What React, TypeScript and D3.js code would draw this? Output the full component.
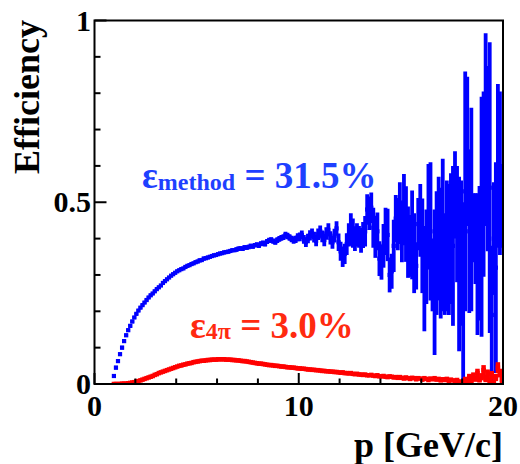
import React from "react";
import * as d3 from "d3";

// Histogram binning (GeV/c): first bin low edge and width
const BIN_LOW = 0.9;
const BIN_WIDTH = 0.1;

// Blue: efficiency with method (bin contents from 0.95 to 19.95)
const blueValues = [
  0.022, 0.045, 0.063, 0.082, 0.100, 0.118, 0.134, 0.148, 0.160, 0.172,
  0.183, 0.193, 0.202, 0.210, 0.217, 0.224, 0.231, 0.238, 0.244, 0.249,
  0.255, 0.261, 0.266, 0.271, 0.278, 0.283, 0.288, 0.293, 0.298, 0.302,
  0.306, 0.310, 0.313, 0.316, 0.318, 0.322, 0.325, 0.327, 0.330, 0.332,
  0.335, 0.337, 0.340, 0.341, 0.345, 0.346, 0.348, 0.350, 0.352, 0.354,
  0.355, 0.357, 0.359, 0.360, 0.362, 0.363, 0.364, 0.366, 0.368, 0.368,
  0.370, 0.372, 0.373, 0.372, 0.376, 0.375, 0.377, 0.380, 0.378, 0.382,
  0.383, 0.381, 0.386, 0.388, 0.385, 0.392, 0.395, 0.397, 0.393, 0.390,
  0.396, 0.399, 0.402, 0.404, 0.410, 0.407, 0.403, 0.399, 0.396, 0.398,
  0.404, 0.405, 0.410, 0.398, 0.390, 0.400, 0.409, 0.414, 0.404, 0.394,
  0.412, 0.420, 0.406, 0.396, 0.414, 0.424, 0.402, 0.390, 0.408, 0.428,
  0.390, 0.365, 0.350, 0.358, 0.385, 0.410, 0.425, 0.415, 0.400, 0.410,
  0.405, 0.395, 0.410, 0.420, 0.480, 0.470, 0.485, 0.430, 0.405, 0.420,
  0.345, 0.335, 0.380, 0.420, 0.410, 0.300, 0.310, 0.380, 0.455, 0.440,
  0.470, 0.420, 0.480, 0.440, 0.390, 0.380, 0.410, 0.360, 0.325, 0.440,
  0.450, 0.380, 0.290, 0.350, 0.460, 0.420, 0.300, 0.280, 0.360, 0.400,
  0.360, 0.410, 0.330, 0.380, 0.370, 0.400, 0.380, 0.520, 0.440, 0.330,
  0.360, 0.250, 0.530, 0.640, 0.420, 0.480, 0.430, 0.400, 0.330, 0.360,
  0.460, 0.550, 0.700, 0.620, 0.540, 0.190, 0.400, 0.320, 0.600, 0.580,
  0.490,
];

const blueErrors = [
  0.005, 0.005, 0.005, 0.005, 0.005, 0.005, 0.005, 0.005, 0.005, 0.005,
  0.004, 0.004, 0.004, 0.004, 0.004, 0.004, 0.004, 0.004, 0.004, 0.004,
  0.004, 0.004, 0.004, 0.004, 0.004, 0.004, 0.004, 0.004, 0.004, 0.004,
  0.004, 0.004, 0.004, 0.004, 0.004, 0.004, 0.004, 0.004, 0.004, 0.004,
  0.005, 0.005, 0.005, 0.005, 0.005, 0.005, 0.005, 0.005, 0.005, 0.005,
  0.005, 0.005, 0.005, 0.005, 0.005, 0.005, 0.005, 0.005, 0.005, 0.005,
  0.006, 0.006, 0.006, 0.006, 0.006, 0.006, 0.006, 0.006, 0.006, 0.006,
  0.007, 0.007, 0.007, 0.007, 0.007, 0.007, 0.007, 0.007, 0.007, 0.007,
  0.008, 0.008, 0.008, 0.008, 0.009, 0.009, 0.009, 0.009, 0.010, 0.010,
  0.011, 0.012, 0.012, 0.012, 0.013, 0.013, 0.014, 0.014, 0.015, 0.015,
  0.016, 0.016, 0.016, 0.017, 0.017, 0.018, 0.018, 0.018, 0.019, 0.020,
  0.024, 0.026, 0.028, 0.028, 0.030, 0.032, 0.045, 0.040, 0.034, 0.032,
  0.030, 0.034, 0.036, 0.042, 0.042, 0.046, 0.042, 0.055, 0.058, 0.052,
  0.048, 0.048, 0.060, 0.065, 0.072, 0.048, 0.048, 0.072, 0.065, 0.072,
  0.085, 0.085, 0.098, 0.104, 0.098, 0.085, 0.122, 0.110, 0.065, 0.072,
  0.100, 0.130, 0.145, 0.130, 0.145, 0.190, 0.100, 0.200, 0.170, 0.170,
  0.180, 0.210, 0.140, 0.180, 0.180, 0.180, 0.220, 0.120, 0.160, 0.240,
  0.200, 0.250, 0.330, 0.205, 0.225, 0.280, 0.095, 0.125, 0.195, 0.185,
  0.330, 0.255, 0.265, 0.255, 0.400, 0.190, 0.155, 0.290, 0.225, 0.225,
  0.115,
];

// Red: 4π efficiency (bin contents from 0.95 to 19.95)
const redValues = [
  0.000, 0.000, 0.000, 0.000, 0.001, 0.001, 0.001, 0.002, 0.003, 0.004,
  0.005, 0.007, 0.008, 0.010, 0.012, 0.014, 0.016, 0.018, 0.020, 0.022,
  0.025, 0.027, 0.030, 0.032, 0.034, 0.036, 0.038, 0.040, 0.042, 0.044,
  0.046, 0.048, 0.050, 0.051, 0.053, 0.054, 0.056, 0.057, 0.058, 0.060,
  0.061, 0.062, 0.063, 0.064, 0.064, 0.065, 0.066, 0.066, 0.067, 0.067,
  0.067, 0.068, 0.068, 0.068, 0.068, 0.067, 0.067, 0.067, 0.066, 0.066,
  0.065, 0.065, 0.064, 0.063, 0.063, 0.062, 0.061, 0.060, 0.059, 0.058,
  0.057, 0.056, 0.056, 0.055, 0.054, 0.053, 0.052, 0.052, 0.051, 0.050,
  0.050, 0.049, 0.048, 0.048, 0.047, 0.046, 0.046, 0.045, 0.045, 0.044,
  0.043, 0.043, 0.042, 0.042, 0.041, 0.040, 0.040, 0.039, 0.039, 0.038,
  0.038, 0.037, 0.036, 0.036, 0.035, 0.035, 0.034, 0.034, 0.033, 0.033,
  0.032, 0.031, 0.032, 0.030, 0.030, 0.029, 0.030, 0.028, 0.027, 0.028,
  0.026, 0.026, 0.025, 0.026, 0.024, 0.024, 0.025, 0.023, 0.022, 0.024,
  0.021, 0.021, 0.022, 0.020, 0.019, 0.021, 0.020, 0.018, 0.019, 0.017,
  0.019, 0.017, 0.015, 0.018, 0.016, 0.014, 0.017, 0.016, 0.013, 0.016,
  0.015, 0.012, 0.016, 0.014, 0.011, 0.015, 0.013, 0.016, 0.012, 0.014,
  0.010, 0.013, 0.011, 0.014, 0.009, 0.012, 0.010, 0.008, 0.011, 0.007,
  0.003, 0.004, 0.012, 0.008, 0.018, 0.010, 0.022, 0.014, 0.030, 0.012,
  0.020, 0.038, 0.015, 0.028, 0.010, 0.024, 0.006, 0.018, 0.045, 0.030,
  0.012,
];

const redErrors = [
  0.001, 0.001, 0.001, 0.001, 0.001, 0.001, 0.001, 0.001, 0.001, 0.001,
  0.001, 0.001, 0.001, 0.001, 0.001, 0.001, 0.001, 0.001, 0.001, 0.001,
  0.001, 0.001, 0.001, 0.001, 0.001, 0.001, 0.001, 0.001, 0.001, 0.001,
  0.001, 0.001, 0.001, 0.001, 0.001, 0.001, 0.001, 0.001, 0.001, 0.001,
  0.001, 0.001, 0.001, 0.001, 0.001, 0.001, 0.001, 0.001, 0.001, 0.001,
  0.001, 0.001, 0.001, 0.001, 0.001, 0.001, 0.001, 0.001, 0.001, 0.001,
  0.001, 0.001, 0.001, 0.001, 0.001, 0.001, 0.001, 0.001, 0.001, 0.001,
  0.001, 0.001, 0.001, 0.001, 0.001, 0.001, 0.001, 0.001, 0.001, 0.001,
  0.001, 0.001, 0.001, 0.001, 0.001, 0.001, 0.001, 0.001, 0.001, 0.001,
  0.001, 0.001, 0.001, 0.001, 0.001, 0.001, 0.001, 0.001, 0.001, 0.001,
  0.002, 0.002, 0.002, 0.002, 0.002, 0.002, 0.002, 0.002, 0.002, 0.002,
  0.002, 0.002, 0.002, 0.002, 0.002, 0.002, 0.002, 0.002, 0.002, 0.002,
  0.002, 0.002, 0.002, 0.002, 0.002, 0.002, 0.002, 0.002, 0.002, 0.002,
  0.002, 0.002, 0.002, 0.002, 0.002, 0.002, 0.002, 0.002, 0.002, 0.002,
  0.002, 0.002, 0.002, 0.002, 0.002, 0.002, 0.002, 0.002, 0.002, 0.002,
  0.003, 0.003, 0.003, 0.003, 0.003, 0.003, 0.003, 0.003, 0.003, 0.003,
  0.003, 0.003, 0.003, 0.003, 0.003, 0.003, 0.003, 0.003, 0.003, 0.003,
  0.006, 0.006, 0.008, 0.008, 0.010, 0.008, 0.010, 0.008, 0.012, 0.008,
  0.010, 0.014, 0.010, 0.012, 0.008, 0.012, 0.006, 0.010, 0.015, 0.012,
  0.010,
];

const xMajorTicks = [0, 10, 20];
const xMinorTicks = [2, 4, 6, 8, 12, 14, 16, 18];
const yMajorTicks = [0, 0.5, 1];
const yMinorTicks = [0.1, 0.2, 0.3, 0.4, 0.6, 0.7, 0.8, 0.9];
const xTickLabels = ["0", "10", "20"];
const yTickLabels = ["0", "0.5", "1"];

const X_DOMAIN: [number, number] = [0, 20];
const Y_DOMAIN: [number, number] = [0, 1];

const FONT = "'Liberation Serif', 'Times New Roman', serif";
const BLUE = "#0000ff";
const RED = "#ff0000";
const BLUE_TEXT = "#1e40ff";
const RED_TEXT = "#ff2a10";

export default function App() {
  const W = 520, H = 464;
  const L = 94.5, R = 503, T = 20.5, B = 384;
  const x = d3.scaleLinear().domain(X_DOMAIN).range([L, R]);
  const y = d3.scaleLinear().domain(Y_DOMAIN).range([B, T]);

  const center = (i: number) => BIN_LOW + BIN_WIDTH * (i + 0.5);

  const series = (vals: number[], errs: number[], color: string, lw: number, ms: number) =>
    vals.map((v, i) => {
      const cx = x(center(i));
      const lo = Math.max(0, v - errs[i]);
      const hi = v + errs[i];
      return (
        <g key={i}>
          <line x1={cx} x2={cx} y1={y(lo)} y2={y(hi)} stroke={color} strokeWidth={lw} />
          <rect x={cx - ms / 2} y={y(v) - ms / 2} width={ms} height={ms} fill={color} />
        </g>
      );
    });

  return (
    <svg
      width={W}
      height={H}
      style={{ position: "absolute", left: 0, top: 0, background: "#fff" }}
      fontFamily={FONT}
      fontWeight="bold"
    >
      <defs>
        <clipPath id="frameClip">
          <rect x={L} y={T} width={R - L} height={B - T} />
        </clipPath>
      </defs>
      <rect x={0} y={0} width={W} height={H} fill="#fff" />

      <g clipPath="url(#frameClip)">
        {series(blueValues, blueErrors, BLUE, 3.8, 4.2)}
        {series(redValues, redErrors, RED, 4.5, 4.5)}
      </g>

      {/* frame */}
      <rect x={L} y={T} width={R - L} height={B - T} fill="none" stroke="#000" strokeWidth={2} />

      {/* x ticks */}
      {xMajorTicks.map((t) => (
        <line key={"xM" + t} x1={x(t)} x2={x(t)} y1={B} y2={B - 11} stroke="#000" strokeWidth={2} />
      ))}
      {xMinorTicks.map((t) => (
        <line key={"xm" + t} x1={x(t)} x2={x(t)} y1={B} y2={B - 5.5} stroke="#000" strokeWidth={2} />
      ))}
      {/* y ticks */}
      {yMajorTicks.map((t) => (
        <line key={"yM" + t} x1={L} x2={L + 12} y1={y(t)} y2={y(t)} stroke="#000" strokeWidth={2} />
      ))}
      {yMinorTicks.map((t) => (
        <line key={"ym" + t} x1={L} x2={L + 6} y1={y(t)} y2={y(t)} stroke="#000" strokeWidth={2} />
      ))}

      {/* tick labels */}
      {xMajorTicks.map((t, i) => (
        <text key={"xl" + t} x={x(t)} y={416} textAnchor="middle" fontSize={30} fill="#000">
          {xTickLabels[i]}
        </text>
      ))}
      {yMajorTicks.map((t, i) => (
        <text key={"yl" + t} x={91} y={y(t) + 10} textAnchor="end" fontSize={30} fill="#000">
          {yTickLabels[i]}
        </text>
      ))}

      {/* axis titles */}
      <text x={503} y={457} textAnchor="end" fontSize={36} fill="#000">
        p [GeV/c]
      </text>
      <text transform="translate(39,20) rotate(-90)" textAnchor="end" fontSize={36} fill="#000">
        Efficiency
      </text>

      {/* annotations */}
      <text x={142} y={188} fontSize={37} fill={BLUE_TEXT}>
        <tspan>ε</tspan>
        <tspan fontSize={24} dy={2}>method</tspan>
        <tspan dy={-2}> = 31.5%</tspan>
      </text>
      <text x={190} y={338} fontSize={37} fill={RED_TEXT}>
        <tspan>ε</tspan>
        <tspan fontSize={24} dy={1}>4π</tspan>
        <tspan dy={-1}> = 3.0%</tspan>
      </text>
    </svg>
  );
}
